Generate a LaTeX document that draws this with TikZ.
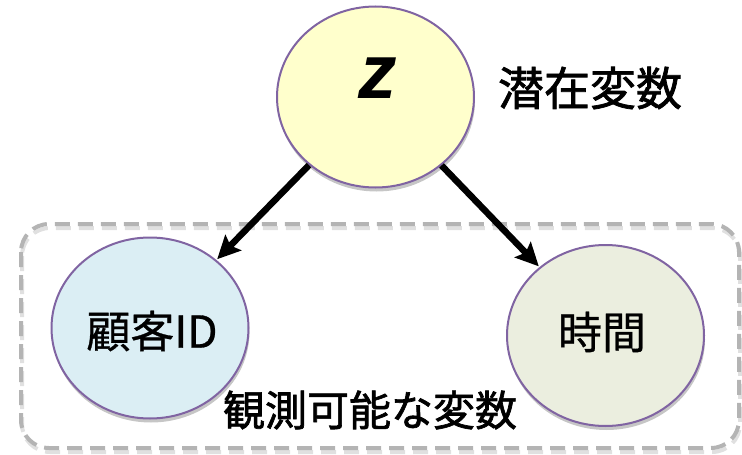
\documentclass[tikz,border=0pt]{standalone}
\usepackage{fontspec}
\setmainfont{Liberation Sans}
\newfontfamily\cjk[FakeBold=0.7]{Noto Sans CJK JP}
\newfontfamily\cjkmed[FakeBold=1.6]{Noto Sans CJK JP}
\usetikzlibrary{shapes.geometric,shadows,arrows.meta}
\definecolor{nodeborder}{HTML}{8064A2}
\definecolor{zfill}{HTML}{FFFFCC}
\definecolor{idfill}{HTML}{DBEEF4}
\definecolor{timefill}{HTML}{EBEEDF}
\definecolor{boxgray}{HTML}{B4B4B4}
\tikzset{
  varnode/.style={ellipse, draw=nodeborder, line width=2pt, minimum width=197pt, minimum height=181pt, inner sep=0pt,
    drop shadow={opacity=0.45, shadow xshift=1pt, shadow yshift=-4pt}},
  arr/.style={line width=6.5pt, -{Stealth[length=23pt,width=22pt,inset=4pt]}, shorten >=1pt},
  obsbox/.style={draw=boxgray, line width=4pt, dash pattern=on 15pt off 8pt, rounded corners=28pt},
  cjklabel/.style={font=\cjk\fontsize{44}{48}\selectfont, inner sep=0pt}
}
\begin{document}
\begin{tikzpicture}[x=1pt,y=-1pt]
\useasboundingbox (0,0) rectangle (742,455);
\draw[obsbox, draw=black!12, xshift=1pt, yshift=-4pt] (21,224) rectangle (739,448);
\draw[obsbox] (21,224) rectangle (739,448);
\node[varnode, fill=zfill] (z) at (375.5,97) {};
\node[font=\fontsize{77}{80}\selectfont\bfseries\itshape] (zl) at (378,78) {z};
\node[varnode, fill=idfill] (id) at (150,328) {};
\node[varnode, fill=timefill] (time) at (605.5,335.5) {};
\node[cjklabel] (idl) at (152,331) {顧客ID};
\node[cjklabel] (timel) at (602,332) {時間};
\node[cjklabel, font=\cjkmed\fontsize{46}{50}\selectfont] (latent) at (590,88) {潜在変数};
\node[cjklabel, font=\cjkmed\fontsize{42}{46}\selectfont] (obs) at (370,410) {観測可能な変数};
\draw[arr] (z) -- (id);
\draw[arr] (z) -- (time);
\end{tikzpicture}
\end{document}
